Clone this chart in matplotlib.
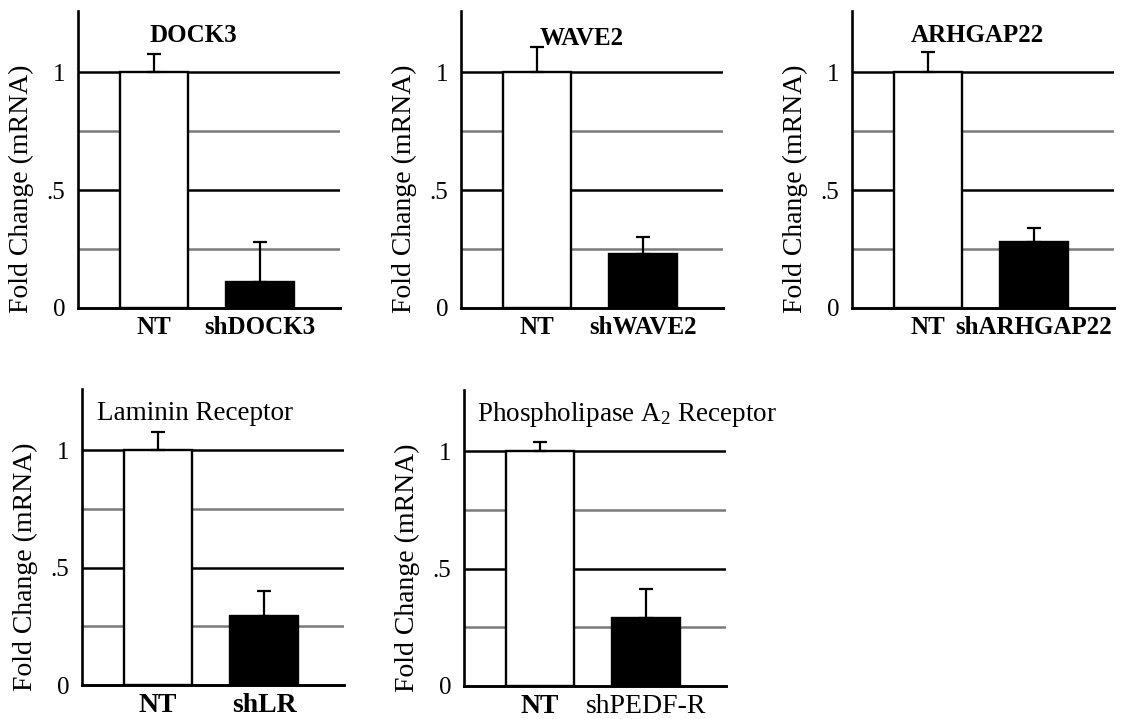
import matplotlib
matplotlib.use("Agg")
import matplotlib.pyplot as plt

plt.rcParams["font.family"] = ["Liberation Serif", "DejaVu Serif"]
plt.rcParams["mathtext.default"] = "regular"

# ── data ──────────────────────────────────────────────────────────────────
titles = ["DOCK3", "WAVE2", "ARHGAP22", "Laminin Receptor",
          "Phospholipase A$_2$ Receptor"]
sh_labels = ["shDOCK3", "shWAVE2", "shARHGAP22", "shLR", "shPEDF-R"]
nt_values = [1.0, 1.0, 1.0, 1.0, 1.0]
nt_errors = [0.076, 0.106, 0.085, 0.077, 0.04]
sh_values = [0.11, 0.23, 0.28, 0.295, 0.29]
sh_errors = [0.17, 0.07, 0.06, 0.105, 0.125]

W, H = 1137, 719
fig = plt.figure(figsize=(W / 100, H / 100), dpi=100)
fig.patch.set_facecolor("white")

# axes boxes in pixels: (left, zero-line y, width, height)
boxes = [(78, 308, 262, 297), (461, 308, 262, 297), (852, 308, 262, 297),
         (82, 685, 262, 296), (464, 686, 262, 296)]
# title: x, y, ha, weight, size
title_pos = [(0.44, 1.157, "center", "bold", 18), (0.46, 1.145, "center", "bold", 18),
             (0.48, 1.157, "center", "bold", 18), (0.057, 1.157, "left", "normal", 19.5),
             (0.05, 1.157, "left", "normal", 19.5)]
sh_weights = ["bold", "bold", "bold", "bold", "normal"]
xlab_sizes = [18, 18, 18, 20, 20]

x_pos = [0.29, 0.695]
bar_w = 0.26

for i in range(5):
    left, zero_y, w, h = boxes[i]
    ax = fig.add_axes([left / W, (H - zero_y) / H, w / W, h / H])
    ax.set_xlim(0, 1)
    ax.set_ylim(0, 1.26)

    # reference lines behind the bars
    for yv, col in [(0.25, "#7a7a7a"), (0.5, "black"), (0.75, "#7a7a7a"), (1.0, "black")]:
        ax.axhline(yv, color=col, linewidth=1.8, zorder=1)

    ax.bar(x_pos, [nt_values[i], sh_values[i]], width=bar_w,
           color=["white", "black"], edgecolor="black", linewidth=1.7, zorder=2)
    ax.errorbar(x_pos, [nt_values[i], sh_values[i]],
                yerr=[[0, 0], [nt_errors[i], sh_errors[i]]],
                fmt="none", ecolor="black", elinewidth=1.6, capsize=4.7,
                capthick=1.6, zorder=3)

    for s in ["top", "right"]:
        ax.spines[s].set_visible(False)
    ax.spines["left"].set_linewidth(1.9)
    ax.spines["bottom"].set_linewidth(2.1)

    ax.set_yticks([0, 0.5, 1])
    ax.set_yticklabels(["0", ".5", "1"], fontsize=18)
    ax.tick_params(axis="y", length=0, pad=9)
    ax.set_xticks(x_pos)
    ax.set_xticklabels(["NT", sh_labels[i]], fontsize=xlab_sizes[i])
    for lab, wt in zip(ax.get_xticklabels(), ["bold", sh_weights[i]]):
        lab.set_fontweight(wt)
    ax.tick_params(axis="x", length=0, pad=6)

    ax.set_ylabel("Fold Change (mRNA)", fontsize=20, va="center")
    ax.yaxis.set_label_coords(-0.215, 0.40)

    tx, ty, ha, wt, fs = title_pos[i]
    ax.text(tx, ty, titles[i], ha=ha, va="center", fontsize=fs, fontweight=wt)

fig.savefig("out.png", dpi=100, facecolor="white")
